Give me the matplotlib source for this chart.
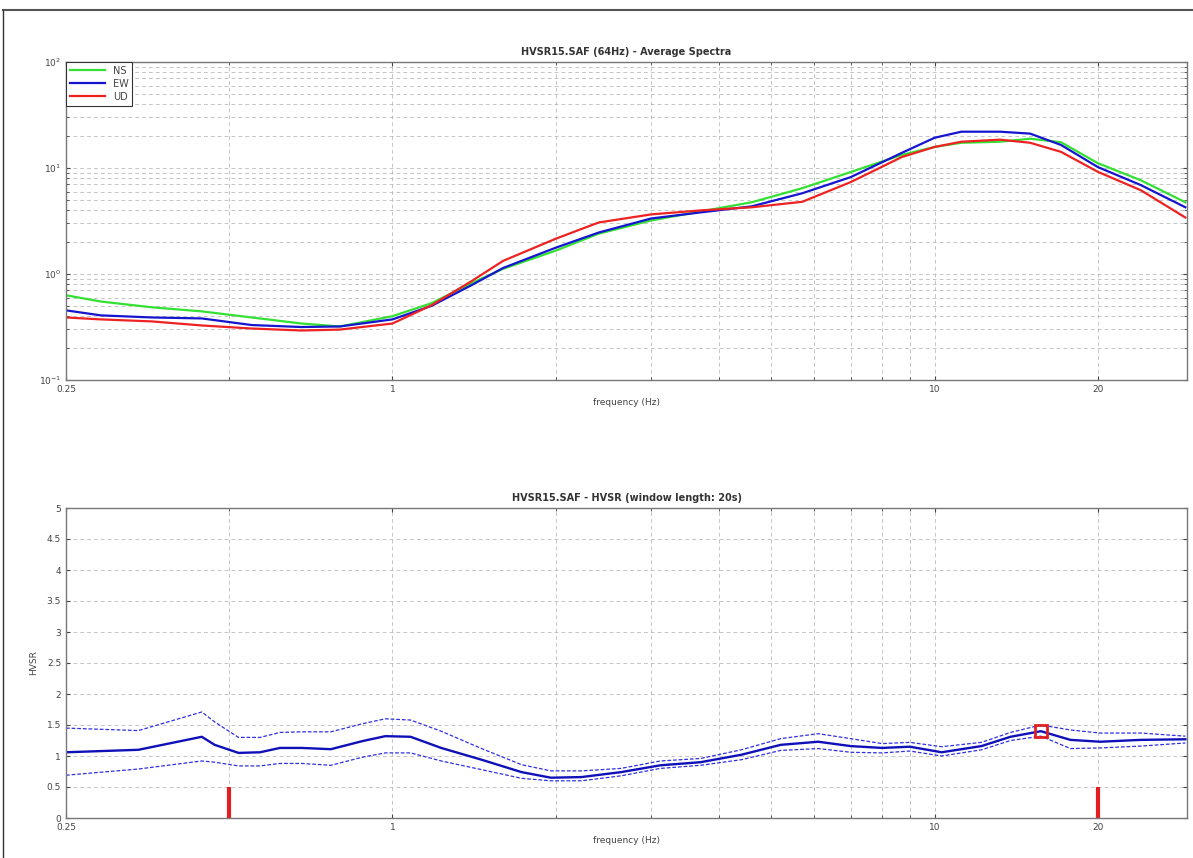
import numpy as np
import matplotlib
matplotlib.use("Agg")
from matplotlib import pyplot as plt
from matplotlib.ticker import FixedLocator, NullFormatter, LogLocator

# Average spectra (top panel)
freq_spec = [0.25, 0.29, 0.36, 0.445, 0.55, 0.68, 0.8, 1.0, 1.18, 1.4, 1.6, 2.0, 2.4, 3.0,
             3.7, 4.6, 5.7, 7.0, 8.7, 10.0, 11.2, 13.2, 15.0, 17.1, 20.0, 24.0, 29.0]
spec_ns = [0.63, 0.55, 0.485, 0.444, 0.389, 0.341, 0.32, 0.40, 0.53, 0.82, 1.12, 1.66, 2.40, 3.20,
           3.89, 4.75, 6.45, 9.16, 13.3, 15.8, 17.3, 17.7, 18.9, 17.5, 11.1, 7.66, 4.75]
spec_ew = [0.454, 0.407, 0.389, 0.381, 0.33, 0.316, 0.32, 0.373, 0.50, 0.786, 1.14, 1.77, 2.46, 3.34,
           3.81, 4.35, 5.78, 8.2, 13.9, 19.3, 22.0, 22.0, 21.1, 16.5, 10.2, 6.9, 4.26]
spec_ud = [0.389, 0.373, 0.357, 0.327, 0.306, 0.293, 0.299, 0.341, 0.507, 0.858, 1.33, 2.15, 3.06, 3.65,
           3.98, 4.26, 4.8, 7.36, 12.7, 15.8, 17.7, 18.5, 17.3, 14.2, 9.2, 6.17, 3.41]

# HVSR curve (bottom panel)
freq_hv = [0.25, 0.34, 0.445, 0.47, 0.52, 0.57, 0.62, 0.68, 0.77, 0.88, 0.97, 1.08, 1.23, 1.46, 1.73,
           1.96, 2.23, 2.64, 3.12, 3.7, 4.4, 5.2, 6.1, 7.0, 8.0, 9.0, 10.3, 12.2, 13.8, 15.7, 17.8,
           20.2, 24.0, 29.0]
hv_mean = [1.06, 1.10, 1.31, 1.18, 1.05, 1.06, 1.13, 1.13, 1.11, 1.24, 1.32, 1.31, 1.13, 0.94, 0.74,
           0.65, 0.66, 0.74, 0.85, 0.90, 1.02, 1.18, 1.23, 1.16, 1.13, 1.15, 1.06, 1.16, 1.31, 1.40,
           1.26, 1.23, 1.26, 1.27]
hv_upper = [1.45, 1.41, 1.71, 1.55, 1.30, 1.30, 1.38, 1.39, 1.39, 1.52, 1.60, 1.58, 1.40, 1.12, 0.86,
            0.76, 0.76, 0.80, 0.92, 0.96, 1.10, 1.28, 1.36, 1.28, 1.20, 1.22, 1.15, 1.22, 1.38, 1.50,
            1.42, 1.37, 1.37, 1.32]
hv_lower = [0.69, 0.79, 0.92, 0.90, 0.84, 0.84, 0.88, 0.88, 0.85, 0.98, 1.05, 1.05, 0.92, 0.78, 0.64,
            0.60, 0.60, 0.68, 0.80, 0.85, 0.94, 1.09, 1.12, 1.06, 1.05, 1.08, 1.00, 1.10, 1.25, 1.32,
            1.12, 1.13, 1.16, 1.21]

peak_f = [15.7]
peak_hv = [1.40]
band_limits = [0.5, 20.0]
band_height = 0.5

x_major = [0.25, 1, 10, 20]
x_major_labels = ["0.25", "1", "10", "20"]
x_grid = [0.5, 2, 3, 4, 5, 6, 7, 8, 9]
hv_ticks = [0, 0.5, 1, 1.5, 2, 2.5, 3, 3.5, 4, 4.5, 5]
hv_tick_labels = ["0", "0.5", "1", "1.5", "2", "2.5", "3", "3.5", "4", "4.5", "5"]

W, H = 1193, 858
fig = plt.figure(figsize=(W / 100, H / 100), dpi=100)

# screenshot frame
fig.add_artist(plt.Line2D([3 / W, 1], [1 - 10 / H, 1 - 10 / H], color="#555555", lw=1.5))
fig.add_artist(plt.Line2D([3 / W, 3 / W], [0, 1 - 10 / H], color="#333333", lw=1.0))

grid_kw = dict(color="#b5b5b5", linestyle=(0, (5, 4)), linewidth=0.55)
text_color = "#444444"
fs = 6.5


def style_axes(ax):
    ax.set_xscale("log")
    ax.set_xlim(0.25, 29.2)
    ax.xaxis.set_major_locator(FixedLocator(x_major))
    ax.set_xticklabels(x_major_labels)
    ax.xaxis.set_minor_locator(FixedLocator(x_grid))
    ax.xaxis.set_minor_formatter(NullFormatter())
    ax.tick_params(which="both", direction="in", top=True, right=True,
                   labelsize=fs, colors=text_color, length=3)
    ax.tick_params(which="minor", length=2)
    for sp in ax.spines.values():
        sp.set_color("#777777")
        sp.set_linewidth(1.0)
    ax.grid(True, which="both", **grid_kw)
    ax.set_axisbelow(True)
    ax.set_xlabel("frequency (Hz)", fontsize=fs, color=text_color, labelpad=3)


# top panel: average spectra
ax1 = fig.add_axes([66 / W, 1 - 380 / H, (1187 - 66) / W, (380 - 62) / H])
style_axes(ax1)
ax1.set_yscale("log")
ax1.set_ylim(0.1, 100)
ax1.yaxis.set_major_locator(LogLocator(base=10))
ax1.yaxis.set_minor_locator(LogLocator(base=10, subs=np.arange(2, 10)))
ax1.yaxis.set_minor_formatter(NullFormatter())
ax1.plot(freq_spec, spec_ns, color="#33e033", lw=1.6, label="NS")
ax1.plot(freq_spec, spec_ew, color="#1515d0", lw=1.6, label="EW")
ax1.plot(freq_spec, spec_ud, color="#ee2222", lw=1.6, label="UD")
ax1.set_title("HVSR15.SAF (64Hz) - Average Spectra", fontsize=7, fontweight="bold",
              color="#333333", pad=5)
leg = ax1.legend(loc="upper left", fontsize=7, borderaxespad=0, handlelength=3.6,
                 fancybox=False, framealpha=1, edgecolor="#333333", labelspacing=0.3,
                 borderpad=0.4)
leg.get_frame().set_linewidth(0.8)
for t in leg.get_texts():
    t.set_color(text_color)

# bottom panel: HVSR
ax2 = fig.add_axes([66 / W, 1 - 818 / H, (1187 - 66) / W, (818 - 508) / H])
style_axes(ax2)
ax2.set_ylim(0, 5)
ax2.set_yticks(hv_ticks)
ax2.set_yticklabels(hv_tick_labels)
ax2.plot(freq_hv, hv_upper, color="#3030e0", lw=0.9, linestyle=(0, (3, 1.5)))
ax2.plot(freq_hv, hv_lower, color="#3030e0", lw=0.9, linestyle=(0, (3, 1.5)))
ax2.plot(freq_hv, hv_mean, color="#1010b8", lw=1.7)
ax2.plot(peak_f, peak_hv, marker="s", markersize=9, markerfacecolor="none",
         markeredgecolor="#e02020", markeredgewidth=2, linestyle="none")
ax2.vlines(band_limits, 0, band_height, color="#e02020", lw=3)
ax2.set_ylabel("HVSR", fontsize=fs, color=text_color, labelpad=6)
ax2.set_title("HVSR15.SAF - HVSR (window length: 20s)", fontsize=7, fontweight="bold",
              color="#333333", pad=5)

fig.savefig("out.png", dpi=100)
